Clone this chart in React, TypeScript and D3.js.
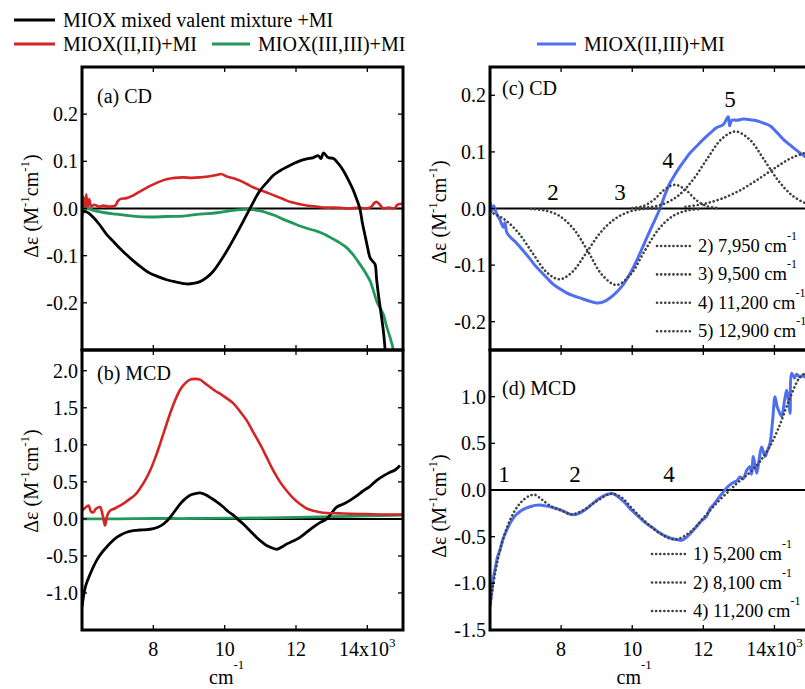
import React from "react";
import * as d3 from "d3";

type P = [number, number];

// ---------- data (wavenumber cm-1, Δε) ----------
const xTicks = [8000, 10000, 12000, 14000];
const ticksA = [0.2, 0.1, 0.0, -0.1, -0.2];
const ticksB = [2.0, 1.5, 1.0, 0.5, 0.0, -0.5, -1.0];
const ticksC = [0.2, 0.1, 0.0, -0.1, -0.2];
const ticksD = [1.0, 0.5, 0.0, -0.5, -1.0, -1.5];

const legendTop = [
  "MIOX mixed valent mixture +MI",
  "MIOX(II,II)+MI",
  "MIOX(III,III)+MI",
  "MIOX(II,III)+MI",
];
const legendC = ["2) 7,950 cm", "3) 9,500 cm", "4) 11,200 cm", "5) 12,900 cm"];
const legendD = ["1) 5,200 cm", "2) 8,100 cm", "4) 11,200 cm"];
const peaksC = ["2", "3", "4", "5"];
const peaksD = ["1", "2", "4"];

const cdMixed: P[] = [
  [6000, -0.005], [6150, -0.008], [6320, -0.019], [6500, -0.035], [6690, -0.055], [6880, -0.07],
  [7065, -0.085], [7250, -0.098], [7440, -0.111], [7670, -0.125], [7900, -0.137], [8150, -0.145],
  [8370, -0.151], [8650, -0.156], [8930, -0.16], [9120, -0.159], [9310, -0.155], [9500, -0.146],
  [9680, -0.133], [9870, -0.113], [10060, -0.09], [10250, -0.065], [10430, -0.04], [10570, -0.02],
  [10710, 0.0], [10850, 0.02], [10990, 0.038], [11180, 0.055], [11360, 0.07], [11550, 0.08],
  [11740, 0.088], [11920, 0.095], [12110, 0.101], [12300, 0.105], [12490, 0.108], [12620, 0.112],
  [12700, 0.106], [12770, 0.118], [12900, 0.108], [13050, 0.106], [13190, 0.095], [13330, 0.08], [13470, 0.06],
  [13610, 0.038], [13700, 0.02], [13790, 0.0], [13860, -0.03], [13930, -0.055], [14000, -0.08],
  [14075, -0.104], [14150, -0.112], [14215, -0.118], [14260, -0.15], [14310, -0.182], [14380, -0.22],
  [14450, -0.26], [14500, -0.3], [14540, -0.34],
];
const cdII: P[] = [
  [6000, 0.008], [6040, 0.025], [6080, -0.005], [6120, 0.03], [6160, 0.0], [6200, 0.02], [6260, 0.005],
  [6350, 0.008], [6470, 0.004], [6600, 0.006], [6750, 0.004], [6930, 0.006], [7000, 0.015], [7070, 0.02],
  [7250, 0.022], [7440, 0.028], [7670, 0.038], [7910, 0.048], [8140, 0.056], [8370, 0.062], [8600, 0.065],
  [8840, 0.066], [9070, 0.065], [9310, 0.066], [9540, 0.068], [9780, 0.071], [9900, 0.073], [10060, 0.068],
  [10250, 0.064], [10430, 0.059], [10620, 0.052], [10800, 0.045], [10990, 0.039], [11180, 0.034],
  [11410, 0.027], [11640, 0.02], [11880, 0.013], [12110, 0.009], [12350, 0.006], [12580, 0.004],
  [12810, 0.002], [13050, 0.002], [13300, 0.001], [13510, 0.0], [13750, 0.002], [13950, 0.0],
  [14100, 0.003], [14200, 0.012], [14270, 0.014], [14350, 0.008], [14450, 0.0], [14600, 0.002],
  [14750, 0.0], [14850, 0.008], [15000, 0.01],
];
const cdIII: P[] = [
  [6000, -0.018], [6050, -0.005], [6150, 0.0], [6320, -0.004], [6650, -0.009], [6970, -0.012],
  [7440, -0.016], [7910, -0.018], [8370, -0.017], [8840, -0.016], [9310, -0.012], [9780, -0.009],
  [10240, -0.004], [10710, -0.002], [11000, -0.005], [11180, -0.009], [11410, -0.015], [11640, -0.023],
  [11880, -0.03], [12110, -0.037], [12350, -0.043], [12580, -0.048], [12810, -0.055], [13050, -0.065],
  [13230, -0.073], [13420, -0.083], [13600, -0.098], [13790, -0.118], [13940, -0.135], [14080, -0.154],
  [14170, -0.174], [14260, -0.196], [14350, -0.21], [14450, -0.225], [14540, -0.25], [14640, -0.274],
  [14730, -0.3], [14800, -0.33],
];

const mcdMixed: P[] = [
  [6000, -1.19], [6093, -0.92], [6233, -0.74], [6411, -0.56], [6550, -0.46], [6692, -0.38], [6830, -0.31],
  [6972, -0.25], [7110, -0.21], [7252, -0.18], [7440, -0.16], [7625, -0.15], [7810, -0.145], [8000, -0.13],
  [8140, -0.11], [8280, -0.07], [8380, -0.03], [8468, 0.02], [8610, 0.11], [8748, 0.2], [8890, 0.27],
  [9028, 0.32], [9170, 0.34], [9309, 0.35], [9450, 0.33], [9589, 0.29], [9780, 0.23], [9963, 0.16],
  [10100, 0.1], [10243, 0.05], [10380, -0.01], [10523, -0.07], [10710, -0.16], [10897, -0.25],
  [11040, -0.31], [11177, -0.36], [11320, -0.39], [11458, -0.41], [11600, -0.38], [11738, -0.34],
  [11920, -0.3], [12112, -0.25], [12300, -0.18], [12486, -0.11], [12670, -0.05], [12860, 0.0],
  [13000, 0.08], [13140, 0.16], [13330, 0.2], [13514, 0.25], [13700, 0.31], [13888, 0.38],
  [14075, 0.44], [14262, 0.52], [14450, 0.58], [14635, 0.63], [14780, 0.66], [14915, 0.72],
];
const mcdII: P[] = [
  [6000, 0.11], [6090, 0.15], [6185, 0.18], [6250, 0.1], [6318, 0.09], [6400, 0.14], [6505, 0.16],
  [6580, 0.05], [6645, -0.09], [6710, 0.05], [6785, 0.11], [6920, 0.14], [7065, 0.18], [7200, 0.22],
  [7345, 0.27], [7480, 0.32], [7625, 0.41], [7770, 0.52], [7907, 0.65], [8050, 0.82], [8187, 1.01],
  [8330, 1.22], [8468, 1.42], [8610, 1.6], [8748, 1.74], [8890, 1.83], [9028, 1.88], [9170, 1.89],
  [9309, 1.88], [9450, 1.83], [9589, 1.78], [9730, 1.73], [9869, 1.69], [10050, 1.63], [10243, 1.56],
  [10430, 1.45], [10617, 1.33], [10800, 1.17], [10991, 1.01], [11180, 0.83], [11364, 0.65],
  [11550, 0.5], [11738, 0.38], [11920, 0.28], [12112, 0.2], [12300, 0.14], [12486, 0.11],
  [12670, 0.09], [12860, 0.08], [13200, 0.075], [13514, 0.07], [14000, 0.065], [14500, 0.06],
  [15000, 0.06],
];
const mcdIII: P[] = [
  [6000, 0.0], [7000, 0.0], [8000, 0.005], [9000, 0.005], [10000, 0.01], [11000, 0.012],
  [12000, 0.02], [13000, 0.03], [14000, 0.04], [15000, 0.05],
];

const cdMixedII_III: P[] = [
  [6000, 0.012], [6050, -0.005], [6100, 0.005], [6190, -0.01], [6280, -0.02], [6375, -0.033],
  [6420, -0.025], [6470, -0.042], [6562, -0.05], [6700, -0.058], [6844, -0.068], [6980, -0.078],
  [7125, -0.089], [7260, -0.1], [7406, -0.11], [7590, -0.122], [7781, -0.134], [7970, -0.142],
  [8156, -0.149], [8340, -0.154], [8531, -0.158], [8760, -0.163], [9000, -0.167], [9190, -0.165],
  [9375, -0.158], [9560, -0.148], [9750, -0.134], [9940, -0.115], [10125, -0.092], [10310, -0.066],
  [10500, -0.039], [10640, -0.02], [10781, 0.0], [10920, 0.024], [11062, 0.045], [11200, 0.06],
  [11344, 0.074], [11480, 0.086], [11625, 0.098], [11810, 0.11], [12000, 0.122], [12190, 0.133],
  [12375, 0.143], [12560, 0.148], [12700, 0.162], [12740, 0.146], [12800, 0.156], [12940, 0.156],
  [13125, 0.158], [13310, 0.157], [13500, 0.155], [13690, 0.151], [13875, 0.146], [14060, 0.135],
  [14250, 0.122], [14480, 0.11], [14719, 0.098], [14860, 0.092], [15000, 0.086],
];
const cdComp2: P[] = [
  [6000, -0.006], [6400, -0.019], [6800, -0.043], [7200, -0.079], [7600, -0.113], [7950, -0.125],
  [8300, -0.113], [8700, -0.079], [9100, -0.043], [9500, -0.019], [9900, -0.006], [10300, -0.001],
  [10800, 0.0],
];
const cdComp3: P[] = [
  [7150, -0.001], [7550, -0.0035], [7950, -0.013], [8350, -0.036], [8750, -0.075], [9150, -0.117],
  [9550, -0.135], [9950, -0.117], [10350, -0.075], [10750, -0.036], [11150, -0.013], [11550, -0.0035],
  [11950, -0.001],
];
const cdComp4: P[] = [
  [10000, 0.001], [10300, 0.004], [10600, 0.015], [10900, 0.033], [11200, 0.042], [11500, 0.033],
  [11800, 0.015], [12100, 0.004], [12400, 0.001],
];
const cdComp5: P[] = [
  [10100, 0.001], [10500, 0.0025], [10900, 0.0085], [11300, 0.023], [11700, 0.05], [12100, 0.087],
  [12500, 0.122], [12900, 0.136], [13300, 0.122], [13700, 0.087], [14100, 0.05], [14500, 0.023],
  [14900, 0.0085], [15000, 0.007],
];
const cdComp6: P[] = [
  [11500, 0.003], [12000, 0.008], [12500, 0.017], [13000, 0.031], [13500, 0.05], [14000, 0.071],
  [14500, 0.09], [15000, 0.101],
];

const mcdMixedII_III: P[] = [
  [6000, -1.25], [6047, -1.1], [6090, -0.95], [6141, -0.85], [6210, -0.72], [6281, -0.64],
  [6370, -0.52], [6469, -0.43], [6560, -0.36], [6656, -0.3], [6750, -0.26], [6844, -0.23],
  [6980, -0.2], [7125, -0.18], [7260, -0.165], [7406, -0.16], [7550, -0.17], [7688, -0.18],
  [7830, -0.195], [7969, -0.21], [8110, -0.235], [8250, -0.26], [8438, -0.26], [8580, -0.235],
  [8719, -0.2], [8860, -0.155], [9000, -0.11], [9140, -0.075], [9281, -0.05], [9469, -0.04],
  [9656, -0.09], [9800, -0.14], [9938, -0.2], [10080, -0.25], [10219, -0.3], [10400, -0.36],
  [10594, -0.41], [10780, -0.46], [10969, -0.5], [11110, -0.52], [11250, -0.53], [11370, -0.54],
  [11484, -0.52], [11650, -0.46], [11813, -0.39], [11950, -0.33], [12094, -0.28], [12188, -0.2],
  [12281, -0.16], [12420, -0.09], [12563, -0.02], [12700, 0.04], [12844, 0.08], [12950, 0.1],
  [13031, 0.14], [13120, 0.12], [13219, 0.21], [13313, 0.25], [13360, 0.17], [13406, 0.36],
  [13500, 0.18], [13560, 0.3], [13640, 0.46], [13734, 0.36], [13800, 0.42], [13875, 0.5],
  [13950, 0.75], [14016, 1.0], [14070, 0.9], [14109, 0.86], [14203, 0.79], [14280, 0.95],
  [14344, 1.07], [14400, 0.95], [14438, 0.82], [14484, 1.25], [14560, 1.2], [14620, 1.24],
  [14719, 1.21], [14800, 1.23], [14860, 1.2],
];
const mcdFit: P[] = [
  [6000, -1.25], [6150, -0.88], [6300, -0.62], [6500, -0.38], [6700, -0.22], [6900, -0.12],
  [7100, -0.065], [7250, -0.05], [7450, -0.1], [7700, -0.17], [8000, -0.22], [8300, -0.26],
  [8600, -0.22], [9000, -0.12], [9400, -0.04], [9700, -0.08], [10000, -0.2], [10400, -0.35],
  [10800, -0.47], [11200, -0.53], [11600, -0.46], [12000, -0.3], [12400, -0.13], [12750, 0.0],
  [13000, 0.09], [13400, 0.22], [13800, 0.42], [14100, 0.65], [14400, 0.95], [14700, 1.2],
  [14860, 1.25],
];

// ---------- styling ----------
const FONT = "'Liberation Serif', 'Times New Roman', Times, serif";
const C_BLACK = "#000000";
const C_RED = "#d42424";
const C_GREEN = "#22985a";
const C_BLUE = "#4f6ef2";
const C_DOT = "#404040";

const fmt = (v: number) => v.toFixed(1);

type Series = { data: P[]; color: string; width: number; dotted?: boolean };

type PanelProps = {
  id: string;
  left: number;
  right: number;
  top: number;
  bottom: number;
  yDomain: [number, number];
  yTicks: number[];
  series: Series[];
  xLabels: boolean;
};

function Panel({ id, left, right, top, bottom, yDomain, yTicks, series, xLabels }: PanelProps) {
  const x = d3.scaleLinear().domain([6000, 15000]).range([left, right]);
  const y = d3.scaleLinear().domain(yDomain).range([bottom, top]);
  const line = d3
    .line<P>()
    .x((d) => x(d[0]))
    .y((d) => y(d[1]))
    .curve(d3.curveCatmullRom.alpha(0.5));
  const tl = 5;
  return (
    <g>
      <defs>
        <clipPath id={id}>
          <rect x={left} y={top} width={right - left} height={bottom - top} />
        </clipPath>
      </defs>
      <line x1={left} x2={right} y1={y(0)} y2={y(0)} stroke="#000" strokeWidth={2} />
      <g clipPath={`url(#${id})`}>
        {series.map((s, i) => (
          <path
            key={i}
            d={line(s.data) || ""}
            fill="none"
            stroke={s.color}
            strokeWidth={s.width}
            strokeLinejoin="round"
            strokeLinecap={s.dotted ? "round" : "butt"}
            strokeDasharray={s.dotted ? "0.1 4" : undefined}
          />
        ))}
      </g>
      {xTicks.map((t) => (
        <g key={"xt" + t}>
          <line x1={x(t)} x2={x(t)} y1={bottom} y2={bottom - tl} stroke="#000" strokeWidth={1.3} />
          <line x1={x(t)} x2={x(t)} y1={top} y2={top + tl} stroke="#000" strokeWidth={1.3} />
        </g>
      ))}
      {yTicks.map((t) => (
        <g key={"yt" + t}>
          <line x1={left} x2={left + tl} y1={y(t)} y2={y(t)} stroke="#000" strokeWidth={1.3} />
          <line x1={right} x2={right - tl} y1={y(t)} y2={y(t)} stroke="#000" strokeWidth={1.3} />
          <text x={left - 4} y={y(t) + 7} textAnchor="end" fontSize={20} fontFamily={FONT}>
            {fmt(t)}
          </text>
        </g>
      ))}
      {xLabels &&
        xTicks.map((t) =>
          t === 14000 ? (
            <text key={"xl" + t} x={x(t)} y={bottom + 26} textAnchor="middle" fontSize={20} fontFamily={FONT}>
              14x10<tspan dy={-9} fontSize={13}>3</tspan>
            </text>
          ) : (
            <text key={"xl" + t} x={x(t)} y={bottom + 26} textAnchor="middle" fontSize={20} fontFamily={FONT}>
              {String(t / 1000)}
            </text>
          )
        )}
      {xLabels && (
        <text x={x(10000) + 2} y={bottom + 54} textAnchor="middle" fontSize={20} fontFamily={FONT}>
          cm<tspan dy={-15} fontSize={13}>-1</tspan>
        </text>
      )}
      <rect x={left} y={top} width={right - left} height={bottom - top} fill="none" stroke="#000" strokeWidth={3} />
    </g>
  );
}

function YLabel({ x, cy }: { x: number; cy: number }) {
  return (
    <text transform={`translate(${x},${cy}) rotate(-90)`} textAnchor="middle" fontSize={20} fontFamily={FONT}>
      Δε  (M<tspan dy={-9} fontSize={13}>-1</tspan>
      <tspan dy={9}>cm</tspan>
      <tspan dy={-9} fontSize={13}>-1</tspan>
      <tspan dy={9}>)</tspan>
    </text>
  );
}

function SmallLegend({ x, y0, step, labels }: { x: number; y0: number; step: number; labels: string[] }) {
  return (
    <g>
      {labels.map((lab, i) => (
        <g key={lab}>
          <line
            x1={x}
            x2={x + 36}
            y1={y0 + i * step - 6}
            y2={y0 + i * step - 6}
            stroke={C_DOT}
            strokeWidth={2.6}
            strokeLinecap="round"
            strokeDasharray="0.1 4"
          />
          <text x={x + 41} y={y0 + i * step} fontSize={18.5} fontFamily={FONT}>
            {lab}
            <tspan dy={-12} fontSize={12}>-1</tspan>
          </text>
        </g>
      ))}
    </g>
  );
}

export default function App() {
  const W = 805;
  const H = 689;
  return (
    <div style={{ position: "absolute", left: 0, top: 0, background: "#fff" }}>
      <svg width={W} height={H} style={{ display: "block", background: "#fff" }}>
        <g fontFamily={FONT} fontSize={20}>
          <line x1={14} x2={55} y1={20} y2={20} stroke={C_BLACK} strokeWidth={3} />
          <text x={63} y={27}>{legendTop[0]}</text>
          <line x1={14} x2={55} y1={44} y2={44} stroke={C_RED} strokeWidth={3} />
          <text x={63} y={51}>{legendTop[1]}</text>
          <line x1={212} x2={250} y1={44} y2={44} stroke={C_GREEN} strokeWidth={3} />
          <text x={258} y={51}>{legendTop[2]}</text>
          <line x1={537} x2={576} y1={44} y2={44} stroke={C_BLUE} strokeWidth={3} />
          <text x={584} y={51}>{legendTop[3]}</text>
        </g>

        <Panel
          id="pa"
          left={82}
          right={403}
          top={67}
          bottom={350}
          yDomain={[-0.3, 0.3]}
          yTicks={ticksA}
          xLabels={false}
          series={[
            { data: cdII, color: C_RED, width: 2.6 },
            { data: cdIII, color: C_GREEN, width: 2.8 },
            { data: cdMixed, color: C_BLACK, width: 2.8 },
          ]}
        />
        <Panel
          id="pb"
          left={82}
          right={403}
          top={350}
          bottom={630}
          yDomain={[-1.5, 2.28]}
          yTicks={ticksB}
          xLabels={true}
          series={[
            { data: mcdIII, color: C_GREEN, width: 2.8 },
            { data: mcdMixed, color: C_BLACK, width: 2.8 },
            { data: mcdII, color: C_RED, width: 2.6 },
          ]}
        />
        <Panel
          id="pc"
          left={490}
          right={810}
          top={67}
          bottom={350}
          yDomain={[-0.25, 0.25]}
          yTicks={ticksC}
          xLabels={false}
          series={[
            { data: cdMixedII_III, color: C_BLUE, width: 3 },
            { data: cdComp2, color: C_DOT, width: 2.6, dotted: true },
            { data: cdComp3, color: C_DOT, width: 2.6, dotted: true },
            { data: cdComp4, color: C_DOT, width: 2.6, dotted: true },
            { data: cdComp5, color: C_DOT, width: 2.6, dotted: true },
            { data: cdComp6, color: C_DOT, width: 2.6, dotted: true },
          ]}
        />
        <Panel
          id="pd"
          left={490}
          right={810}
          top={350}
          bottom={630}
          yDomain={[-1.5, 1.5]}
          yTicks={ticksD}
          xLabels={true}
          series={[
            { data: mcdMixedII_III, color: C_BLUE, width: 3 },
            { data: mcdFit, color: C_DOT, width: 2.6, dotted: true },
          ]}
        />

        <g fontFamily={FONT} fontSize={20}>
          <text x={97} y={103}>(a) CD</text>
          <text x={97} y={380}>(b) MCD</text>
          <text x={502} y={95}>(c) CD</text>
          <text x={502} y={395}>(d) MCD</text>
        </g>

        <g fontFamily={FONT} fontSize={23} textAnchor="middle">
          <text x={553} y={200}>{peaksC[0]}</text>
          <text x={620} y={200}>{peaksC[1]}</text>
          <text x={668} y={168}>{peaksC[2]}</text>
          <text x={730} y={107}>{peaksC[3]}</text>
          <text x={504} y={482}>{peaksD[0]}</text>
          <text x={575} y={482}>{peaksD[1]}</text>
          <text x={669} y={482}>{peaksD[2]}</text>
        </g>

        <SmallLegend x={657} y0={252} step={28.4} labels={legendC} />
        <SmallLegend x={652} y0={560} step={28.5} labels={legendD} />

        <YLabel x={38} cy={206} />
        <YLabel x={38} cy={481} />
        <YLabel x={446} cy={212} />
        <YLabel x={446} cy={506} />
      </svg>
    </div>
  );
}
